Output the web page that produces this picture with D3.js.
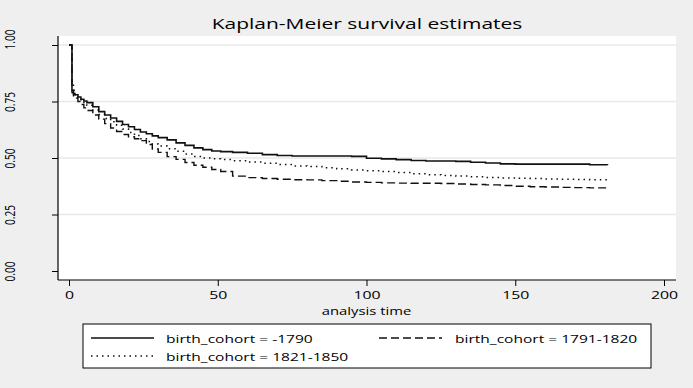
<!DOCTYPE html>
<html><head><meta charset="utf-8">
<script src="https://cdn.jsdelivr.net/npm/d3@7"></script>
<style>html,body{margin:0;padding:0;background:#efefef;}svg{display:block;}</style>
</head><body>
<svg id="c" width="693" height="388"></svg>
<script>
const times = [0,1,1.5,2,3,4,5,6,8,10,12,14,16,18,20,22,24,26,28,30,33,36,39,42,45,48,51,55,60,65,70,75,80,85,90,95,100,105,110,115,120,125,130,135,140,145,150,155,160,165,170,175,181];
const survA = [1.00,0.80,0.785,0.78,0.77,0.76,0.752,0.745,0.727,0.705,0.69,0.677,0.662,0.648,0.638,0.626,0.615,0.607,0.598,0.59,0.58,0.567,0.556,0.545,0.537,0.531,0.528,0.525,0.521,0.515,0.511,0.509,0.509,0.509,0.509,0.507,0.499,0.496,0.493,0.489,0.487,0.487,0.485,0.481,0.478,0.474,0.473,0.473,0.473,0.473,0.473,0.47,0.469];
const survB = [1.00,0.79,0.77,0.765,0.75,0.737,0.722,0.71,0.69,0.672,0.652,0.633,0.617,0.604,0.594,0.585,0.577,0.56,0.54,0.525,0.506,0.494,0.48,0.468,0.459,0.449,0.44,0.42,0.413,0.409,0.406,0.404,0.403,0.40,0.397,0.394,0.392,0.39,0.389,0.388,0.388,0.387,0.385,0.383,0.381,0.378,0.375,0.373,0.372,0.37,0.369,0.368,0.367];
const survC = [1.00,0.83,0.80,0.78,0.765,0.752,0.742,0.733,0.712,0.692,0.675,0.66,0.645,0.628,0.613,0.60,0.585,0.573,0.562,0.553,0.541,0.53,0.518,0.507,0.50,0.497,0.493,0.488,0.482,0.477,0.471,0.465,0.462,0.457,0.452,0.447,0.444,0.44,0.436,0.43,0.426,0.423,0.42,0.417,0.414,0.412,0.41,0.409,0.407,0.406,0.405,0.404,0.403];
const seriesNames = ["birth_cohort = -1790","birth_cohort = 1791-1820","birth_cohort = 1821-1850"];
const xTicks = [0,50,100,150,200];
const yTicks = [0,0.25,0.5,0.75,1];
const yTickLabels = ["0.00","0.25","0.50","0.75","1.00"];
const titleText = "Kaplan-Meier survival estimates";
const xTitle = "analysis time";

const svg = d3.select("#c");
const plot = {l:58, r:676, t:36, b:280};
const x = d3.scaleLinear().domain([0,200]).range([69,664]);
const y = d3.scaleLinear().domain([0,1]).range([271,45]);
const FONT = "'Open Sans', sans-serif";
const SX = 1.4; // horizontal text stretch seen in the reference

svg.append("rect").attr("width",693).attr("height",388).attr("fill","#efefef");
svg.append("rect").attr("x",plot.l).attr("y",plot.t).attr("width",plot.r-plot.l).attr("height",plot.b-plot.t).attr("fill","#fff");

// gridlines
svg.append("g").selectAll("line").data(yTicks.filter(d=>d>0)).join("line")
  .attr("x1",plot.l).attr("x2",plot.r).attr("y1",d=>y(d)).attr("y2",d=>y(d))
  .attr("stroke","#e8e8e8").attr("stroke-width",1.5);

// y axis
const yAxis = d3.axisLeft(y).tickValues(yTicks).tickFormat((d,i)=>yTickLabels[i]).tickSize(6);
const gy = svg.append("g").attr("transform",`translate(${plot.l},0)`).call(yAxis);
gy.select(".domain").attr("d",`M0,${plot.t}V${plot.b}`).attr("stroke","#000").attr("stroke-width",1.2);
gy.selectAll(".tick line").attr("stroke","#000");
gy.selectAll(".tick text")
  .attr("x",0).attr("y",0).attr("dy",null).attr("text-anchor","middle")
  .attr("transform",d=>`translate(${15-plot.l},${d===1?-6:0}) scale(${SX},1) rotate(-90)`)
  .attr("font-family",FONT).attr("font-size",10).attr("fill","#000");

// x axis
const xAxis = d3.axisBottom(x).tickValues(xTicks).tickSize(6);
const gx = svg.append("g").attr("transform",`translate(0,${plot.b})`).call(xAxis);
gx.select(".domain").attr("d",`M${plot.l},0H${plot.r}`).attr("stroke","#000").attr("stroke-width",1.2);
gx.selectAll(".tick line").attr("stroke","#000");
gx.selectAll(".tick text").attr("y",19.5).attr("dy",null).attr("text-anchor","middle")
  .attr("transform",`scale(${SX},1)`)
  .attr("font-family",FONT).attr("font-size",11.3).attr("fill","#000");

svg.append("text").attr("transform",`translate(${x(100)},315) scale(${SX},1)`).attr("text-anchor","middle")
  .attr("font-family",FONT).attr("font-size",10.6).text(xTitle);

svg.append("text").attr("transform",`translate(367,29) scale(${SX},1)`).attr("text-anchor","middle")
  .attr("font-family",FONT).attr("font-size",15).text(titleText);

// curves
const line = d3.line().x(d=>x(d[0])).y(d=>y(d[1])).curve(d3.curveStepAfter);
const styles = [{dash:null,w:1.6},{dash:"8,4",w:1.4},{dash:"1.5,4",w:1.5}];
const data = [survA,survB,survC].map(s=>times.map((t,i)=>[t,s[i]]));
svg.append("g").selectAll("path").data(data).join("path")
  .attr("d",line).attr("fill","none").attr("stroke","#111")
  .attr("stroke-width",(d,i)=>styles[i].w).attr("stroke-dasharray",(d,i)=>styles[i].dash);

// legend
const lg = svg.append("g");
lg.append("rect").attr("x",83).attr("y",324).attr("width",568).attr("height",44).attr("fill","#fff").attr("stroke","#000").attr("stroke-width",1);
const legPos = [{lx:91,ly:338,tx:166,ty:343},{lx:379,ly:338,tx:455,ty:343},{lx:91,ly:356,tx:166,ty:361}];
seriesNames.forEach((n,i)=>{
  const p = legPos[i];
  lg.append("line").attr("x1",p.lx).attr("x2",p.lx+63).attr("y1",p.ly).attr("y2",p.ly)
    .attr("stroke","#111").attr("stroke-width",styles[i].w).attr("stroke-dasharray",styles[i].dash);
  lg.append("text").attr("transform",`translate(${p.tx},${p.ty}) scale(${SX},1)`)
    .attr("font-family",FONT).attr("font-size",11.1).text(n);
});
</script>
</body></html>
